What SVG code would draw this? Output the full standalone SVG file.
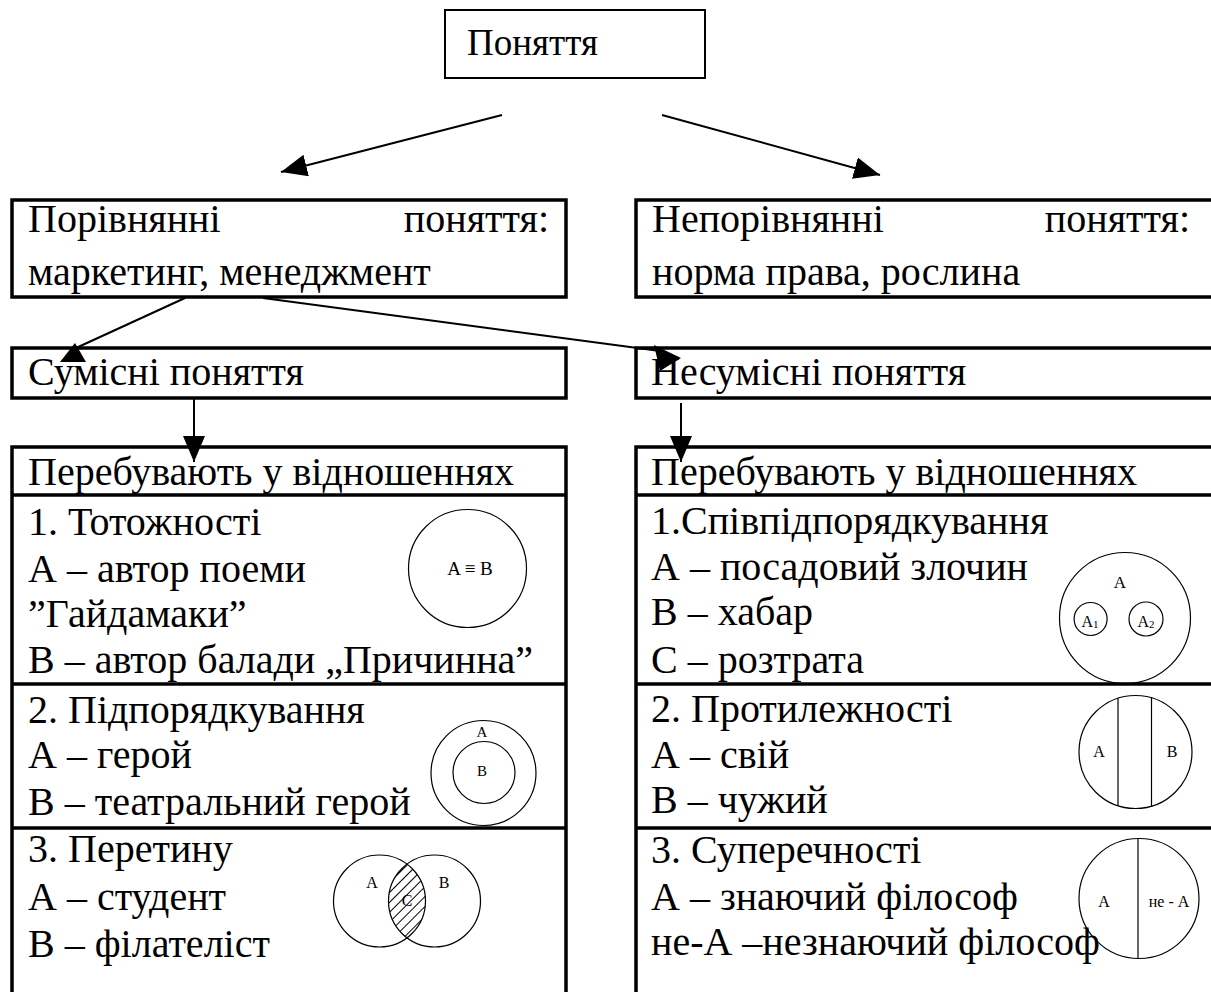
<svg xmlns="http://www.w3.org/2000/svg" width="1211" height="992" viewBox="0 0 1211 992">
<style>
.t{font-family:"Liberation Serif","Times New Roman",serif;font-size:40px;fill:#000}
.s{font-family:"Liberation Serif","Times New Roman",serif;font-size:15px;fill:#000}
.box{fill:#fff;stroke:#000;stroke-width:3.5}
.sep{stroke:#000;stroke-width:3.5}
.c{fill:none;stroke:#000;stroke-width:1.2}
.ln{stroke:#000;stroke-width:2;fill:none}
</style>
<defs>
<marker id="ah" markerUnits="userSpaceOnUse" markerWidth="28" markerHeight="24" refX="26" refY="11" orient="auto">
<path d="M0,0 L26,11 L0,22 z" fill="#000"/>
</marker>
<pattern id="hatch" patternUnits="userSpaceOnUse" width="7" height="7" patternTransform="rotate(-45)">
<line x1="0" y1="3.5" x2="7" y2="3.5" stroke="#000" stroke-width="1"/>
</pattern>
<clipPath id="clipA"><circle cx="379.5" cy="901" r="46"/></clipPath>
</defs>

<g id="root">
<rect x="445" y="10" width="260" height="68" fill="#fff" stroke="#000" stroke-width="2"/>
<text class="t" x="467" y="55" style="font-size:37px">Поняття</text>
</g>

<g id="comparable">
<rect class="box" x="12" y="200" width="554" height="97"/>
<text class="t" x="28" y="232">Порівнянні</text>
<text class="t" x="549" y="232" text-anchor="end">поняття:</text>
<text class="t" x="28" y="285">маркетинг, менеджмент</text>
</g>

<g id="incomparable">
<rect class="box" x="636" y="200" width="590" height="97"/>
<text class="t" x="652" y="232">Непорівнянні</text>
<text class="t" x="1190" y="232" text-anchor="end">поняття:</text>
<text class="t" x="652" y="285">норма права, рослина</text>
</g>

<g id="compatible">
<rect class="box" x="12" y="348" width="554" height="50"/>
<text class="t" x="28" y="385">Сумісні поняття</text>
</g>

<g id="incompatible">
<rect class="box" x="636" y="348" width="590" height="50"/>
<text class="t" x="651" y="385">Несумісні поняття</text>
</g>

<g id="left-relations">
<rect class="box" x="12" y="447" width="554" height="560"/>
<line class="sep" x1="12" y1="495" x2="566" y2="495"/>
<line class="sep" x1="12" y1="684" x2="566" y2="684"/>
<line class="sep" x1="12" y1="828" x2="566" y2="828"/>
<text class="t" x="28" y="485">Перебувають у відношеннях</text>
<text class="t" x="28" y="535">1. Тотожності</text>
<text class="t" x="28" y="582">А – автор поеми</text>
<text class="t" x="28" y="627">”Гайдамаки”</text>
<text class="t" x="28" y="673">В – автор балади „Причинна”</text>
<text class="t" x="28" y="723">2. Підпорядкування</text>
<text class="t" x="28" y="768">А – герой</text>
<text class="t" x="28" y="815">В – театральний герой</text>
<text class="t" x="28" y="862">3. Перетину</text>
<text class="t" x="28" y="910">А – студент</text>
<text class="t" x="28" y="957">В – філателіст</text>
<circle class="c" cx="467.5" cy="568.5" r="59"/>
<text class="s" x="470" y="575" text-anchor="middle" style="font-size:19px">A ≡ B</text>
<circle class="c" cx="483.5" cy="773" r="52.5"/>
<circle class="c" cx="484" cy="772.5" r="31"/>
<text class="s" x="482" y="737" text-anchor="middle">A</text>
<text class="s" x="482" y="776" text-anchor="middle">B</text>
<circle cx="434.5" cy="901" r="46" fill="url(#hatch)" clip-path="url(#clipA)"/>
<circle class="c" cx="379.5" cy="901" r="46"/>
<circle class="c" cx="434.5" cy="901" r="46"/>
<text class="s" x="372" y="888" text-anchor="middle" style="font-size:16px">A</text>
<text class="s" x="444" y="888" text-anchor="middle" style="font-size:16px">B</text>
<text class="s" x="407" y="906" text-anchor="middle" style="font-size:16px">C</text>
</g>

<g id="right-relations">
<rect class="box" x="636" y="447" width="590" height="560"/>
<line class="sep" x1="636" y1="495" x2="1226" y2="495"/>
<line class="sep" x1="636" y1="684" x2="1226" y2="684"/>
<line class="sep" x1="636" y1="828" x2="1226" y2="828"/>
<text class="t" x="651" y="485">Перебувають у відношеннях</text>
<text class="t" x="651" y="534">1.Співпідпорядкування</text>
<text class="t" x="651" y="580">А – посадовий злочин</text>
<text class="t" x="651" y="625">В – хабар</text>
<text class="t" x="651" y="673">С – розтрата</text>
<text class="t" x="651" y="722">2. Протилежності</text>
<text class="t" x="651" y="768">А – свій</text>
<text class="t" x="651" y="813">В – чужий</text>
<text class="t" x="651" y="863">3. Суперечності</text>
<text class="t" x="651" y="910">А – знаючий філософ</text>
<text class="t" x="651" y="955">не-А –незнаючий філософ</text>
<circle class="c" cx="1125" cy="618" r="65.5"/>
<text class="s" x="1120" y="588" text-anchor="middle" style="font-size:17px">A</text>
<circle class="c" cx="1090.6" cy="619" r="16.5"/>
<circle class="c" cx="1146" cy="619" r="17"/>
<text class="s" x="1090" y="627" text-anchor="middle" style="font-size:16px">A<tspan style="font-size:11px" dy="1">1</tspan></text>
<text class="s" x="1146" y="627" text-anchor="middle" style="font-size:16px">A<tspan style="font-size:11px" dy="1">2</tspan></text>
<circle class="c" cx="1135.5" cy="752" r="56.5"/>
<line class="c" x1="1118" y1="698" x2="1118" y2="806"/>
<line class="c" x1="1151.5" y1="697.5" x2="1151.5" y2="806.5"/>
<text class="s" x="1099" y="757" text-anchor="middle" style="font-size:16px">A</text>
<text class="s" x="1172" y="757" text-anchor="middle" style="font-size:16px">B</text>
<circle class="c" cx="1139" cy="898.5" r="60"/>
<line class="c" x1="1138" y1="838.5" x2="1138" y2="958.5"/>
<text class="s" x="1104" y="907" text-anchor="middle" style="font-size:16px">A</text>
<text class="s" x="1169" y="907" text-anchor="middle" style="font-size:16px">не - А</text>
</g>

<g id="connectors">
<line class="ln" x1="502" y1="115" x2="281" y2="172" marker-end="url(#ah)"/>
<line class="ln" x1="662" y1="115" x2="880" y2="175" marker-end="url(#ah)"/>
<line class="ln" x1="185" y1="298" x2="76" y2="348"/>
<polygon points="75,343 60,362 86,362" fill="#000"/>
<line class="ln" x1="263" y1="298" x2="660" y2="351"/>
<polygon points="654,345 681,358 660,371" fill="#000"/>
<line class="ln" x1="194" y1="398" x2="194" y2="462" marker-end="url(#ah)"/>
<line class="ln" x1="681" y1="403" x2="681" y2="462" marker-end="url(#ah)"/>
</g>
</svg>
